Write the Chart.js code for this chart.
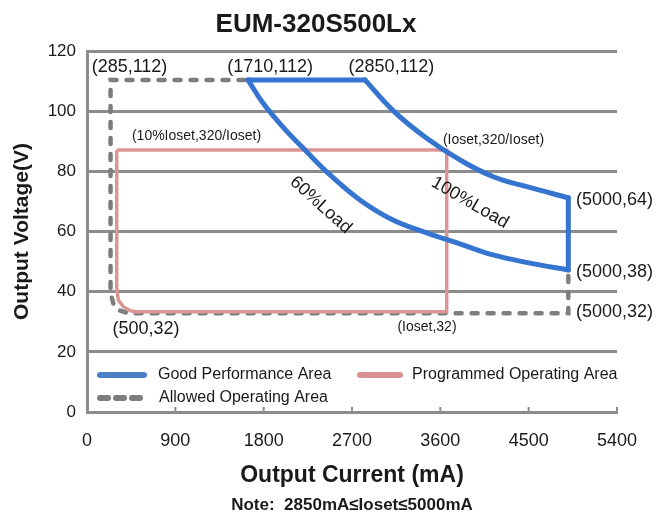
<!DOCTYPE html>
<html lang="en">
<head>
    <meta charset="UTF-8">
    <script src="https://cdn.jsdelivr.net/npm/chart.js"></script>
    <title>EUM-320S500Lx</title>
    <style>
        html, body { margin: 0; padding: 0; background: #fff; }
        canvas { display: block; }
    </style>
</head>
<body>
    <canvas id="myChart" width="666" height="516"></canvas>
    <script>
        // current in mA, voltage in V
        // good performance area = 100% load curve + 60% load curve, joined by a top and a right edge
        const fullLoadCurrent = [2832, 3121, 3461, 3800, 4140, 4480, 4904];
        const fullLoadVoltage = [110.4, 100.1, 91.0, 83.8, 78.2, 74.9, 71.2];
        const sixtyLoadCurrent = [1640, 1793, 1997, 2241, 2476, 2781, 3118, 3464, 3770, 4137, 4514, 4904];
        const sixtyLoadVoltage = [110.4, 102.7, 94.7, 86.4, 78.8, 70.5, 63.8, 59.5, 56.2, 52.2, 49.5, 47.2];

        const progCurrent = [303, 3665, 3665, 489, 438, 370, 319, 303, 303];
        const progVoltage = [87.1, 87.1, 33.3, 33.3, 33.7, 35.0, 37.2, 41.6, 87.1];

        const allowedCurrent = [4904, 4904, 421, 319, 268, 240, 240, 1640];
        const allowedVoltage = [45.2, 32.8, 32.8, 33.9, 36.1, 39.5, 110.4, 110.4];

        const seriesNames = ['Good Performance Area', 'Programmed Operating Area', 'Allowed Operating Area'];
        const xTicks = [0, 900, 1800, 2700, 3600, 4500, 5400];
        const yTicks = [0, 20, 40, 60, 80, 100, 120];

        const chartTitle = 'EUM-320S500Lx';
        const note = 'Note:  2850mA\u2264Ioset\u22645000mA';

        // point labels: text, anchor (mA, V)
        const labelTexts = ['(285,112)', '(1710,112)', '(2850,112)', '(10%Ioset,320/Ioset)', '(Ioset,320/Ioset)',
            '(5000,64)', '(5000,38)', '(5000,32)', '(500,32)', '(Ioset,32)', '60%Load', '100%Load'];
        const labelX = [433, 1865, 3102, 1116, 4142, 4982, 4982, 4982, 601, 3464, 2381, 3902];
        const labelY = [114.7, 114.7, 114.7, 91.8, 90.4, 70.5, 46.5, 33.2, 27.6, 28.3, 68.8, 69.6];

        const FONT = '"Liberation Sans", Arial, sans-serif';
        const TEXT = '#1a1a1a';
        const GRID = '#8c8c8c';
        const BLUE = '#3575d0';
        const PINK = '#dc9595';
        const GRAY = '#7d7d7d';

        function toPoints(xs, ys) {
            return xs.map((v, i) => ({ x: v, y: ys[i] }));
        }
        const last = a => a[a.length - 1];

        const blueLine = {
            showLine: true,
            borderColor: BLUE,
            borderWidth: 5,
            borderCapStyle: 'round',
            borderJoinStyle: 'round',
            pointRadius: 0
        };

        const extras = {
            id: 'extras',
            afterDraw(chart) {
                const { ctx, chartArea, scales: { x, y } } = chart;
                ctx.save();

                // title
                ctx.fillStyle = TEXT;
                ctx.textAlign = 'center';
                ctx.textBaseline = 'middle';
                ctx.font = 'bold 26px ' + FONT;
                ctx.fillText(chartTitle, 316, 25);

                // small tick marks sitting on the x axis
                ctx.strokeStyle = GRID;
                ctx.lineWidth = 2;
                xTicks.forEach(v => {
                    const px = x.getPixelForValue(v);
                    ctx.beginPath();
                    ctx.moveTo(px, chartArea.bottom);
                    ctx.lineTo(px, chartArea.bottom - 5);
                    ctx.stroke();
                });

                // point labels
                labelTexts.forEach((t, i) => {
                    const px = x.getPixelForValue(labelX[i]);
                    const py = y.getPixelForValue(labelY[i]);
                    ctx.save();
                    ctx.translate(px, py);
                    ctx.textBaseline = 'middle';
                    ctx.textAlign = 'center';
                    ctx.font = '18px ' + FONT;
                    if (t.indexOf('Ioset') >= 0) ctx.font = '14px ' + FONT;
                    if (t.indexOf('(5000') === 0) ctx.textAlign = 'left';
                    if (t === '60%Load') ctx.rotate(42 * Math.PI / 180);
                    if (t === '100%Load') ctx.rotate(30 * Math.PI / 180);
                    ctx.fillText(t, 0, 0);
                    ctx.restore();
                });

                // legend inside the plot
                const left = chartArea.left;
                const row1 = chartArea.bottom - 37;
                const row2 = chartArea.bottom - 14;
                ctx.lineWidth = 6;
                ctx.lineCap = 'round';
                ctx.strokeStyle = '#4a80c6';
                ctx.beginPath(); ctx.moveTo(left + 13, row1); ctx.lineTo(left + 57, row1); ctx.stroke();
                ctx.strokeStyle = '#dc8f91';
                ctx.beginPath(); ctx.moveTo(left + 273, row1); ctx.lineTo(left + 313, row1); ctx.stroke();
                ctx.strokeStyle = GRAY;
                ctx.setLineDash([8, 8]);
                ctx.beginPath(); ctx.moveTo(left + 13, row2); ctx.lineTo(left + 53, row2); ctx.stroke();
                ctx.setLineDash([]);

                ctx.fillStyle = TEXT;
                ctx.textAlign = 'left';
                ctx.font = '16px ' + FONT;
                ctx.fillText(seriesNames[0], left + 71, row1);
                ctx.fillText(seriesNames[1], left + 325, row1);
                ctx.fillText(seriesNames[2], left + 72, row2);

                // note under the axis title
                ctx.textAlign = 'center';
                ctx.font = 'bold 17px ' + FONT;
                ctx.fillText(note, 352, 505);

                ctx.restore();
            }
        };

        const ctx = document.getElementById('myChart');
        new Chart(ctx, {
            type: 'scatter',
            data: {
                datasets: [{
                    label: seriesNames[0],
                    data: toPoints(fullLoadCurrent, fullLoadVoltage),
                    ...blueLine,
                    tension: 0.4
                }, {
                    label: seriesNames[0],
                    data: toPoints(sixtyLoadCurrent, sixtyLoadVoltage),
                    ...blueLine,
                    tension: 0.4
                }, {
                    label: seriesNames[0],
                    data: [{ x: sixtyLoadCurrent[0], y: sixtyLoadVoltage[0] }, { x: fullLoadCurrent[0], y: fullLoadVoltage[0] }],
                    ...blueLine
                }, {
                    label: seriesNames[0],
                    data: [{ x: last(fullLoadCurrent), y: last(fullLoadVoltage) }, { x: last(sixtyLoadCurrent), y: last(sixtyLoadVoltage) }],
                    ...blueLine
                }, {
                    label: seriesNames[1],
                    data: toPoints(progCurrent, progVoltage),
                    showLine: true,
                    borderColor: PINK,
                    borderWidth: 3.5,
                    pointRadius: 0,
                    tension: 0
                }, {
                    label: seriesNames[2],
                    data: toPoints(allowedCurrent, allowedVoltage),
                    showLine: true,
                    borderColor: GRAY,
                    borderWidth: 4.5,
                    borderDash: [6, 10],
                    borderCapStyle: 'round',
                    pointRadius: 0,
                    tension: 0
                }]
            },
            options: {
                responsive: false,
                animation: false,
                layout: { padding: { top: 51, right: 49, bottom: 24, left: 0 } },
                scales: {
                    x: {
                        type: 'linear',
                        min: 0,
                        max: 5400,
                        afterBuildTicks: s => { s.ticks = xTicks.map(v => ({ value: v })); },
                        afterFit: s => { s.height = 80; },
                        ticks: { color: TEXT, padding: 18, font: { family: FONT, size: 18 }, callback: v => String(v) },
                        grid: { display: false, drawTicks: false },
                        border: { display: true, color: GRID, width: 3 },
                        title: {
                            display: true,
                            text: 'Output Current (mA)',
                            color: TEXT,
                            font: { family: FONT, size: 23, weight: 'bold' },
                            padding: { top: 0, bottom: 3 }
                        }
                    },
                    y: {
                        min: 0,
                        max: 120,
                        afterBuildTicks: s => { s.ticks = yTicks.map(v => ({ value: v })); },
                        afterFit: s => { s.width = 87; },
                        ticks: { color: TEXT, padding: 11, font: { family: FONT, size: 17 }, callback: v => String(v) },
                        grid: { color: GRID, lineWidth: 3, drawTicks: false },
                        border: { display: true, color: GRID, width: 3 },
                        title: {
                            display: true,
                            text: 'Output Voltage(V)',
                            color: TEXT,
                            font: { family: FONT, size: 21, weight: 'bold' },
                            padding: { top: 10, bottom: 0 }
                        }
                    }
                },
                plugins: {
                    legend: { display: false },
                    title: { display: false },
                    tooltip: { enabled: false }
                }
            },
            plugins: [extras]
        });
    </script>
</body>
</html>
